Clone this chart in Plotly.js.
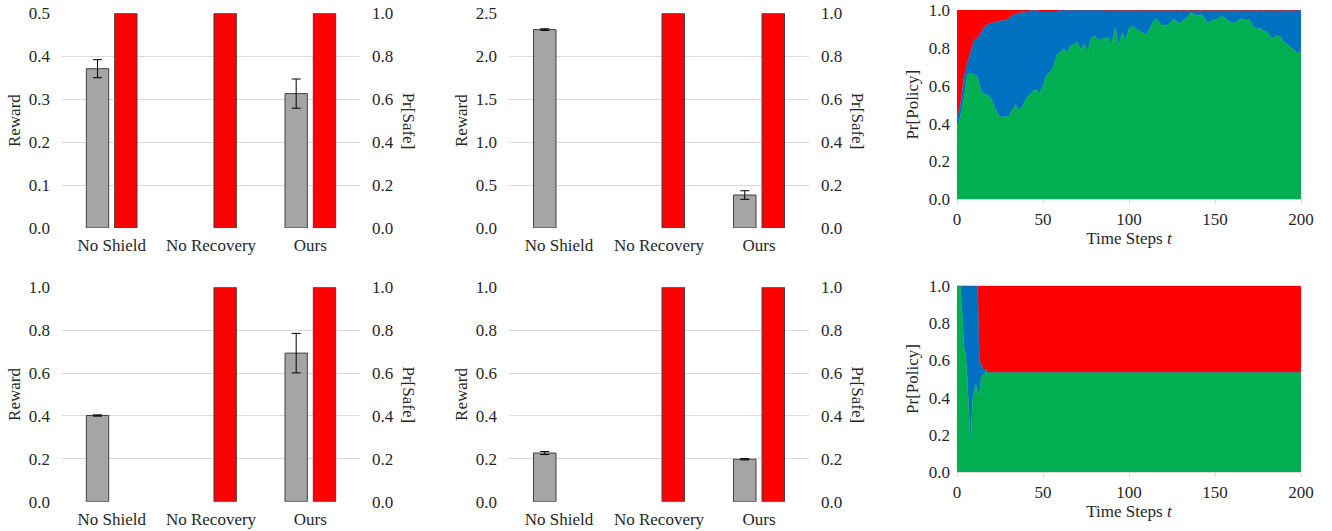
<!DOCTYPE html>
<html>
<head>
<meta charset="utf-8">
<script src="https://cdn.plot.ly/plotly-3.0.1.min.js"></script>
<style>html,body{margin:0;padding:0;background:#fff}#chart{width:1332px;height:531px}</style>
</head>
<body>
<div id="chart"></div>
<script>
// ---------- data ----------
const categories = ['No Shield', 'No Recovery', 'Ours'];

// panel A (top left)
const rewardA = [0.371, null, 0.313];
const rewardErrA = [0.021, 0, 0.034];
const safeA = [1.0, 1.0, 1.0];
// panel B (top middle)
const rewardB = [2.31, null, 0.384];
const rewardErrB = [0.01, 0, 0.05];
const safeB = [null, 1.0, 1.0];
// panel C (bottom left)
const rewardC = [0.402, null, 0.693];
const rewardErrC = [0.003, 0, 0.092];
const safeC = [null, 1.0, 1.0];
// panel D (bottom middle)
const rewardD = [0.227, null, 0.198];
const rewardErrD = [0.007, 0, 0.003];
const safeD = [null, 1.0, 1.0];

// tick labels
const rewardTicksA = [0, 0.1, 0.2, 0.3, 0.4, 0.5];
const rewardTicksB = [0, 0.5, 1.0, 1.5, 2.0, 2.5];
const rewardTicksCD = [0, 0.2, 0.4, 0.6, 0.8, 1.0];
const probTicks = [0, 0.2, 0.4, 0.6, 0.8, 1.0];
const stepTicks = [0, 50, 100, 150, 200];

// panel E (top right) stacked policy probabilities
const stepsE = [0,2,4,6,8,10,12,14,16,18,20,22,24,26,28,30,32,34,36,38,40,42,44,46,48,50,
  52,54,56,58,60,62,64,66,68,70,72,74,76,78,80,82,84,86,88,90,92,94,96,98,100,
  102,104,106,108,110,112,114,116,118,120,122,124,126,128,130,132,134,136,138,140,
  142,144,146,148,150,152,154,156,158,160,162,164,166,168,170,172,174,176,178,180,
  182,184,186,188,190,192,194,196,198,200];
const greenE = [0.38,0.44,0.53,0.66,0.665,0.66,0.645,0.57,0.555,0.55,0.53,0.48,0.45,0.43,0.44,0.435,0.47,0.50,0.47,0.49,0.53,0.55,0.57,0.58,0.56,0.60,
  0.655,0.67,0.70,0.76,0.78,0.795,0.775,0.81,0.82,0.83,0.79,0.82,0.78,0.85,0.865,0.84,0.847,0.85,0.855,0.82,0.905,0.81,0.88,0.84,0.90,
  0.917,0.90,0.89,0.88,0.865,0.90,0.935,0.955,0.93,0.917,0.92,0.93,0.955,0.935,0.93,0.95,0.96,0.986,0.975,0.97,
  0.976,0.955,0.93,0.945,0.95,0.955,0.97,0.955,0.94,0.935,0.93,0.95,0.955,0.945,0.95,0.915,0.90,0.905,0.89,0.885,
  0.86,0.85,0.865,0.86,0.83,0.82,0.80,0.79,0.77,0.78];
const blueE = [0.04,0.06,0.11,0.06,0.115,0.18,0.205,0.31,0.355,0.375,0.40,0.455,0.49,0.515,0.505,0.52,0.50,0.48,0.515,0.495,0.46,0.44,0.43,0.42,0.43,0.39,
  0.335,0.32,0.29,0.23,0.22,0.205,0.225,0.19,0.18,0.17,0.21,0.18,0.22,0.15,0.135,0.16,0.153,0.15,0.139,0.18,0.089,0.19,0.114,0.16,0.094,
  0.083,0.094,0.11,0.114,0.135,0.094,0.065,0.039,0.07,0.077,0.08,0.064,0.045,0.059,0.07,0.044,0.04,0.008,0.025,0.024,
  0.024,0.039,0.07,0.049,0.05,0.039,0.03,0.039,0.06,0.059,0.07,0.044,0.045,0.049,0.05,0.079,0.10,0.089,0.11,0.109,
  0.14,0.144,0.135,0.134,0.17,0.174,0.20,0.204,0.23,0.22];
const redE = [0.58,0.50,0.36,0.28,0.22,0.16,0.15,0.12,0.09,0.075,0.07,0.065,0.06,0.055,0.055,0.045,0.03,0.02,0.015,0.015,0.01,0.01,0,0,0.01,0.01,
  0.01,0.01,0.01,0.01,0,0,0,0,0,0,0,0,0,0,0,0,0,0,0.006,0,0.006,0,0.006,0,0.006,
  0,0.006,0,0.006,0,0.006,0,0.006,0,0.006,0,0.006,0,0.006,0,0.006,0,0.006,0,0.006,
  0,0.006,0,0.006,0,0.006,0,0.006,0,0.006,0,0.006,0,0.006,0,0.006,0,0.006,0,0.006,
  0,0.006,0,0.006,0,0.006,0,0.006,0,0];

// panel F (bottom right)
const stepsF = [0,1,2,3,4,5,6,7,8,9,10,11,12,13,14,15,16,17,18,200];
const greenF = [1,1,1,0.85,0.68,0.63,0.50,0.30,0.16,0.38,0.44,0.47,0.44,0.41,0.50,0.52,0.53,0.545,0.536,0.536];
const blueF  = [0,0,0,0.15,0.32,0.37,0.50,0.70,0.84,0.62,0.56,0.53,0.56,0.19,0.08,0.04,0.02,0.005,0,0];
const redF   = [0,0,0,0,0,0,0,0,0,0,0,0,0,0.40,0.42,0.44,0.45,0.45,0.464,0.464];

// ---------- style ----------
const W = 1332, H = 531;
const FONT = '"Liberation Serif", "Times New Roman", Times, serif';
const TXT = '#262626';
const GRID = '#D9D9D9';
const GRAY = '#A5A5A5';
const RED = '#FF0000';
const GREEN = '#00B050';
const BLUE = '#0070C0';
const fx = p => p / W;
const fy = p => 1 - p / H;
const F = (s) => ({family: FONT, size: s || 17, color: TXT});

const barPanels = [
  {r: rewardA, e: rewardErrA, s: safeA, ticks: rewardTicksA, x: [62, 360], y: [13.3, 228]},
  {r: rewardB, e: rewardErrB, s: safeB, ticks: rewardTicksB, x: [509, 809], y: [13.3, 228]},
  {r: rewardC, e: rewardErrC, s: safeC, ticks: rewardTicksCD, x: [62, 360], y: [287.3, 501.7]},
  {r: rewardD, e: rewardErrD, s: safeD, ticks: rewardTicksCD, x: [509, 809], y: [287.3, 501.7]},
];

const data = [];
const layout = {
  width: W, height: H,
  margin: {l: 0, r: 0, t: 0, b: 0},
  paper_bgcolor: '#fff', plot_bgcolor: 'rgba(0,0,0,0)',
  showlegend: false,
  barmode: 'overlay',
  font: F(17),
  annotations: []
};

barPanels.forEach((p, i) => {
  const xa = 'x' + (i === 0 ? '' : i + 1);
  const yl = 2 * i + 1, yr = 2 * i + 2;
  const yaL = 'y' + (yl === 1 ? '' : yl), yaR = 'y' + yr;
  data.push({
    type: 'bar', x: categories, y: p.r, xaxis: xa, yaxis: yaL,
    width: 0.225, offset: -0.255,
    marker: {color: GRAY, line: {color: '#404040', width: 1}},
    error_y: {type: 'data', array: p.e, visible: true, color: '#000', thickness: 1, width: 4.5},
    hoverinfo: 'y'
  });
  data.push({
    type: 'bar', x: categories, y: p.s, xaxis: xa, yaxis: yaR,
    width: 0.225, offset: 0.03,
    marker: {color: RED, line: {color: '#404040', width: 1}},
    hoverinfo: 'y'
  });
  layout['xaxis' + (i === 0 ? '' : i + 1)] = {
    domain: [fx(p.x[0]), fx(p.x[1])], anchor: yaL,
    type: 'category', range: [-0.5, 2.5],
    showgrid: false, zeroline: false, showline: false, ticks: '',
    tickfont: F(17), ticklabelstandoff: 5, ticklabeloverflow: 'allow', fixedrange: true
  };
  const maxR = p.ticks[p.ticks.length - 1];
  layout['yaxis' + (yl === 1 ? '' : yl)] = {
    domain: [fy(p.y[1]), fy(p.y[0])], anchor: xa,
    range: [0, maxR], tickmode: 'array', tickvals: p.ticks, tickformat: '.1f',
    showgrid: true, gridcolor: GRID, gridwidth: 1, zeroline: false, showline: false, ticks: '',
    tickfont: F(17), ticklabelstandoff: 11, ticklabeloverflow: 'allow',
    title: {text: 'Reward', font: F(17), standoff: 3}
  };
  layout['yaxis' + yr] = {
    overlaying: yaL, side: 'right', anchor: xa,
    range: [0, 1.0], tickmode: 'array', tickvals: probTicks, tickformat: '.1f',
    showgrid: false, zeroline: false, showline: false, ticks: '',
    tickfont: F(17), ticklabelstandoff: 11, ticklabeloverflow: 'allow'
  };
  layout.annotations.push({
    text: 'Pr[Safe]', textangle: 90, showarrow: false,
    xref: 'paper', yref: 'paper',
    x: fx(p.x[1] + 48), y: fy((p.y[0] + p.y[1]) / 2),
    xanchor: 'center', yanchor: 'middle',
    font: F(17)
  });
});

// stacked area panels
const areaPanels = [
  {t: stepsE, g: greenE, b: blueE, r: redE, x: [957, 1301], y: [10, 199.3]},
  {t: stepsF, g: greenF, b: blueF, r: redF, x: [957, 1301], y: [285.7, 472.3]},
];
areaPanels.forEach((p, k) => {
  const n = 5 + k;
  const xa = 'x' + n, ya = 'y' + (9 + k);
  const grp = 'stack' + k;
  [[p.g, GREEN], [p.b, BLUE], [p.r, RED]].forEach(([vals, col]) => {
    data.push({
      type: 'scatter', x: p.t, y: vals, xaxis: xa, yaxis: ya,
      stackgroup: grp, mode: 'lines',
      line: {color: col, width: 0.5}, fillcolor: col, hoverinfo: 'x+y'
    });
  });
  layout['xaxis' + n] = {
    domain: [fx(p.x[0]), fx(p.x[1])], anchor: ya,
    range: [0, 200], tickmode: 'array', tickvals: stepTicks,
    showgrid: false, zeroline: false, showline: true, linecolor: GRID, linewidth: 1,
    ticks: 'outside', ticklen: 4, tickcolor: GRID,
    tickfont: F(17), ticklabeloverflow: 'allow',
    title: {text: 'Time Steps <i>t</i>', font: F(17), standoff: 2},
    fixedrange: true
  };
  layout['yaxis' + (9 + k)] = {
    domain: [fy(p.y[1]), fy(p.y[0])], anchor: xa,
    range: [0, 1.0], tickmode: 'array', tickvals: probTicks, tickformat: '.1f',
    showgrid: false, zeroline: false, showline: false, ticks: '',
    tickfont: F(17), ticklabelstandoff: 6, ticklabeloverflow: 'allow',
    title: {text: 'Pr[Policy]', font: F(17), standoff: 5}
  };
});

Plotly.newPlot('chart', data, layout, {displayModeBar: false, staticPlot: true});
</script>
</body>
</html>
